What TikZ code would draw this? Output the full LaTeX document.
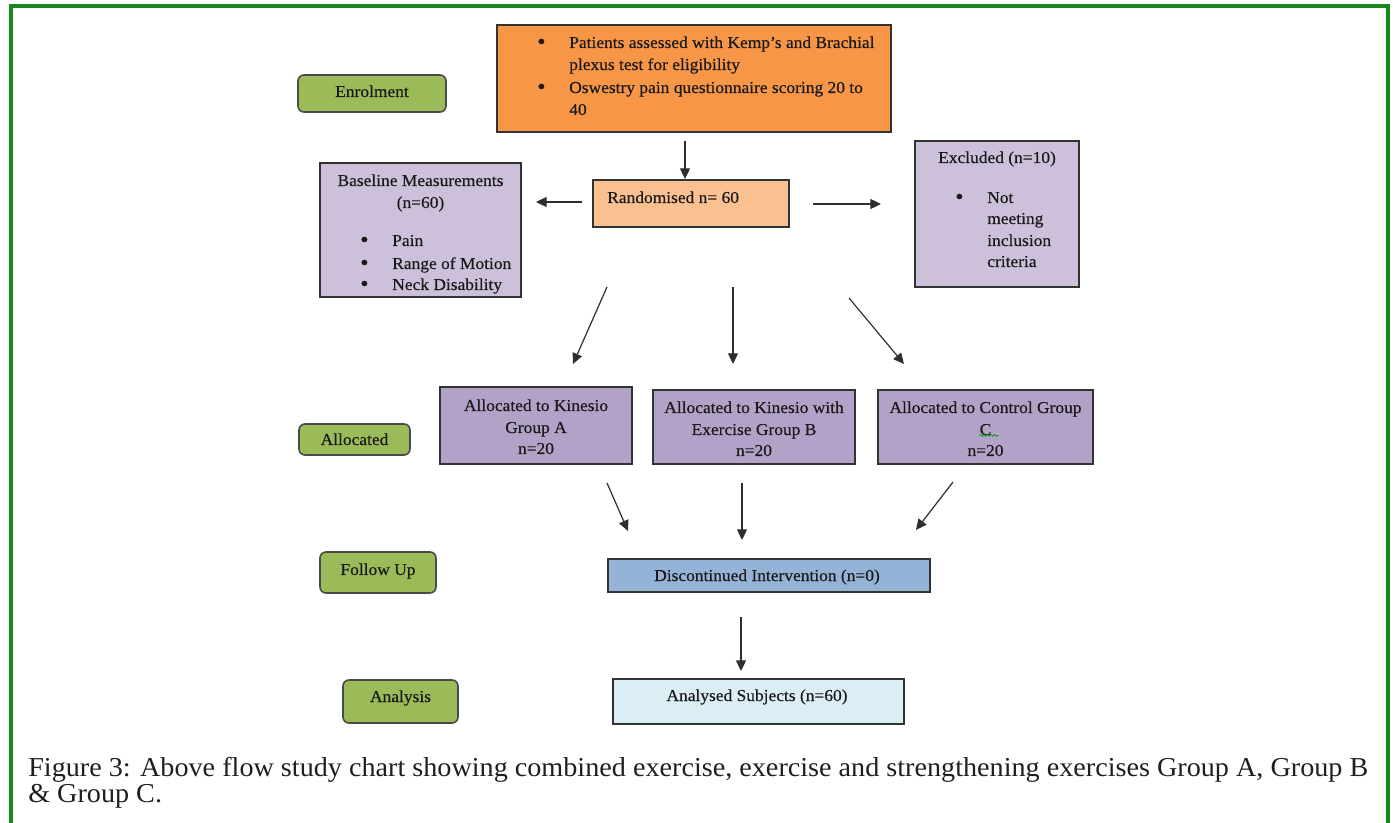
\documentclass[tikz,border=0pt]{standalone}
\usepackage{fontspec}
\setmainfont{Liberation Serif}
\newfontfamily\boxfam{Liberation Serif}[FakeBold=0.35,FakeStretch=1.045]
\usepackage{graphicx}
\usetikzlibrary{arrows.meta,fit,decorations.pathmorphing}
\definecolor{orangeA}{HTML}{F79646}
\definecolor{orangeB}{HTML}{FAC090}
\definecolor{lilacA}{HTML}{CCC0DA}
\definecolor{lilacB}{HTML}{B3A2C7}
\definecolor{labgreen}{HTML}{9BBB59}
\definecolor{blueA}{HTML}{95B3D7}
\definecolor{blueB}{HTML}{DAEEF3}
\definecolor{framegreen}{HTML}{17871B}
\definecolor{edge}{HTML}{333333}
\definecolor{labedge}{HTML}{4A4A4A}
\definecolor{arrowgray}{HTML}{2E2E2E}
\newlength\capw
\newcommand\capfont{\fontsize{20.5}{24}\selectfont}
\newcommand\boxfont{\boxfam\fontsize{12.5}{15}\selectfont}
\newcommand\blt{{\fontsize{17}{15}\selectfont\textbullet}}
\newcommand\capone{Figure 3: Above flow study chart showing combined exercise, exercise and strengthening exercises Group A, Group B}
\tikzset{
  flowbox/.style={draw=edge, line width=1.1pt, inner sep=0pt},
  stagelab/.style={draw=labedge, line width=1.2pt, rounded corners=4.5pt, fill=labgreen, inner sep=0pt},
  txt/.style={inner sep=0pt, font=\boxfont, text=black!90},
  captxt/.style={inner sep=0pt, font=\capfont, anchor=base west, text=black!88},
  arr/.style={draw=arrowgray, line width=0.9pt, -{Triangle[length=8pt,width=7.5pt]}},
}
\begin{document}
\settowidth{\capw}{\capfont\capone}%
\pgfmathsetmacro\capsx{1005/\capw}%
\begin{tikzpicture}[x=0.75pt,y=-0.75pt]
\useasboundingbox (0,0) rectangle (1393,823);
% outer green frame
\draw[framegreen, line width=2.4pt] (11,830) -- (11,6) -- (1388,6) -- (1388,830);

% ---------- boxes ----------
\node[flowbox, fill=orangeA, fit={(497,25) (891,132)}] (top) {};
\node[flowbox, fill=orangeB, fit={(593,180) (789,227)}] (rand) {};
\node[flowbox, fill=lilacA, fit={(320,163) (521,297)}] (base) {};
\node[flowbox, fill=lilacA, fit={(915,141) (1079,287)}] (excl) {};
\node[flowbox, fill=lilacB, fit={(440,387) (632,464)}] (ga) {};
\node[flowbox, fill=lilacB, fit={(653,390) (855,464)}] (gb) {};
\node[flowbox, fill=lilacB, fit={(878,390) (1093,464)}] (gc) {};
\node[flowbox, fill=blueA, fit={(608,559) (930,592)}] (disc) {};
\node[flowbox, fill=blueB, fit={(613,679) (904,724)}] (anal) {};

\node[stagelab, fit={(298,75) (446,112)}] (enrol) {};
\node[stagelab, fit={(299,424) (410,455)}] (alloc) {};
\node[stagelab, fit={(320,552) (436,593)}] (follow) {};
\node[stagelab, fit={(343,680) (458,723)}] (analysis) {};

% ---------- stage labels ----------
\node[txt, anchor=base] (t-enrol) at (372,97) {Enrolment};
\node[txt, anchor=base] (t-alloc) at (354.5,445) {Allocated};
\node[txt, anchor=base] (t-follow) at (378,575) {Follow Up};
\node[txt, anchor=base] (t-analysis) at (400.5,702) {Analysis};

% ---------- top box text ----------
\node[txt, anchor=base west] (tb1) at (537,49) {\blt};
\node[txt, anchor=base west] (tt1) at (569,48) {Patients assessed with Kemp’s and Brachial};
\node[txt, anchor=base west] (tt2) at (569,70) {plexus test for eligibility};
\node[txt, anchor=base west] (tb2) at (537,94) {\blt};
\node[txt, anchor=base west] (tt3) at (569,93) {Oswestry pain questionnaire scoring 20 to};
\node[txt, anchor=base west] (tt4) at (569,115) {40};

% ---------- randomised ----------
\node[txt, anchor=base west] (t-rand) at (607,203) {Randomised n= 60};

% ---------- baseline ----------
\node[txt, anchor=base] (bl1) at (420.5,186) {Baseline Measurements};
\node[txt, anchor=base] (bl2) at (420.5,208) {(n=60)};
\node[txt, anchor=base west] (bb1) at (360,247) {\blt};
\node[txt, anchor=base west] (bt1) at (392,246) {Pain};
\node[txt, anchor=base west] (bb2) at (360,270) {\blt};
\node[txt, anchor=base west] (bt2) at (392,269) {Range of Motion};
\node[txt, anchor=base west] (bb3) at (360,291) {\blt};
\node[txt, anchor=base west] (bt3) at (392,290) {Neck Disability};

% ---------- excluded ----------
\node[txt, anchor=base] (ex1) at (997,163) {Excluded (n=10)};
\node[txt, anchor=base west] (eb1) at (955,204) {\blt};
\node[txt, anchor=base west] (et1) at (987,203) {Not};
\node[txt, anchor=base west] (et2) at (987,224) {meeting};
\node[txt, anchor=base west] (et3) at (987,246) {inclusion};
\node[txt, anchor=base west] (et4) at (987,267) {criteria};

% ---------- groups ----------
\node[txt, anchor=base] (ga1) at (536,411) {Allocated to Kinesio};
\node[txt, anchor=base] (ga2) at (536,433) {Group A};
\node[txt, anchor=base] (ga3) at (536,454) {n=20};
\node[txt, anchor=base] (gb1) at (754,413) {Allocated to Kinesio with};
\node[txt, anchor=base] (gb2) at (754,435) {Exercise Group B};
\node[txt, anchor=base] (gb3) at (754,456) {n=20};
\node[txt, anchor=base] (gc1) at (985.5,413) {Allocated to Control Group};
\node[txt, anchor=base] (gc2) at (985.5,435) {C};
\node[txt, anchor=base] (gc3) at (985.5,456) {n=20};
\draw[green!60!black, line width=0.5pt, decorate, decoration={snake, amplitude=0.7pt, segment length=2.6pt}] (gc2.south west) -- ([xshift=5pt]gc2.south east);

% ---------- follow up / analysis ----------
\node[txt, anchor=base] (t-disc) at (767,581) {Discontinued Intervention (n=0)};
\node[txt, anchor=base] (t-anal) at (757,701) {Analysed Subjects (n=60)};

% ---------- arrows (free-floating, as in the reference) ----------
\coordinate (a1s) at (685,141);  \coordinate (a1e) at (685,179);
\coordinate (a2s) at (582,202);  \coordinate (a2e) at (536,202);
\coordinate (a3s) at (813,204);  \coordinate (a3e) at (881,204);
\coordinate (a4s) at (607,287);  \coordinate (a4e) at (573,364);
\coordinate (a5s) at (733,287);  \coordinate (a5e) at (733,364);
\coordinate (a6s) at (849,298);  \coordinate (a6e) at (904,364);
\coordinate (a7s) at (607,483);  \coordinate (a7e) at (628,531);
\coordinate (a8s) at (742,483);  \coordinate (a8e) at (742,540);
\coordinate (a9s) at (953,482);  \coordinate (a9e) at (916,530);
\coordinate (a10s) at (741,617); \coordinate (a10e) at (741,671);
\foreach \i in {1,...,10} {\draw[arr] (a\i s) -- (a\i e);}

% ---------- caption ----------
\node[captxt] (cap1) at (28,776) {\scalebox{\capsx}[1]{\capone}};
\node[captxt] (cap2) at (28,802.5) {\scalebox{\capsx}[1]{\& Group C.}};
\end{tikzpicture}
\end{document}
